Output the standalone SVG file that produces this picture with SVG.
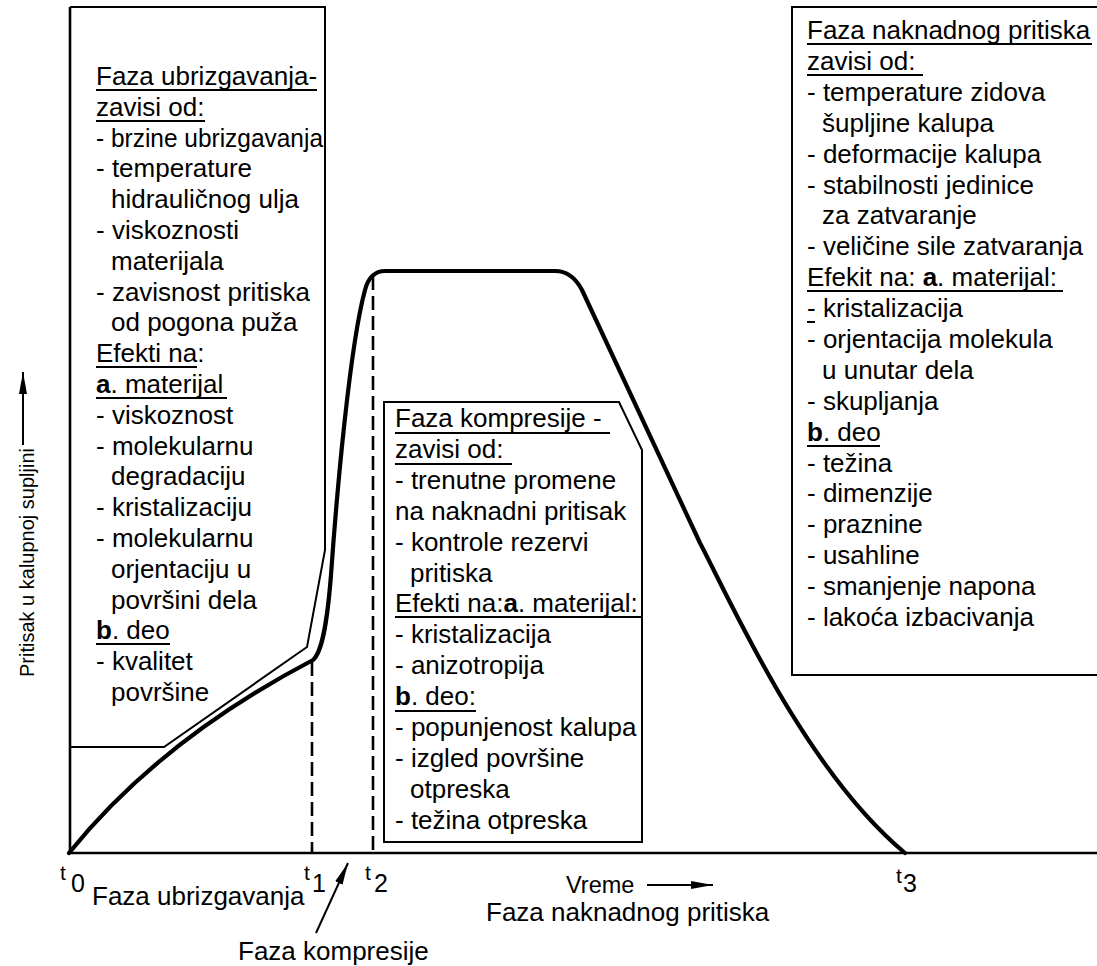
<svg xmlns="http://www.w3.org/2000/svg" width="1097" height="966" viewBox="0 0 1097 966">
<style>
.t{font-family:"Liberation Sans",Arial,sans-serif;font-size:26px;fill:#000}
.lab{font-family:"Liberation Sans",Arial,sans-serif;fill:#000}
.b{font-weight:bold}
.box{fill:none;stroke:#000;stroke-width:2}
.ul{stroke:#000;stroke-width:1.8}
.axis{fill:none;stroke:#000;stroke-width:2.6}
.curve{fill:none;stroke:#000;stroke-width:4.2;stroke-linejoin:round;stroke-linecap:round}
.dash{fill:none;stroke:#000;stroke-width:2.6;stroke-dasharray:14 6}
.arr{fill:none;stroke:#000;stroke-width:2}
</style>
<defs>
<marker id="ah" markerWidth="24" markerHeight="10" refX="22" refY="5" orient="auto" markerUnits="userSpaceOnUse">
<path d="M0,1 L22,5 L0,9 Z" fill="#000"/>
</marker>
</defs>
<rect width="1097" height="966" fill="#fff"/>

<g id="axes">
<path class="axis" d="M70,7 L70,853 L1097,853"/>
</g>

<g id="connectors">
<path class="curve" d="M69,853 Q160,740 313,660 C322,652 327,625 331,575 C337,490 350,345 365,290 Q370,271 385,271 L555,271 Q572,271 582,290 L700,543 C730,600 805,770 905,853"/>
<path class="dash" d="M312,662 L312,853"/>
<path class="dash" d="M373,276 L373,853"/>
<path class="arr" d="M316,933 L348,863" marker-end="url(#ah)"/>
<path class="arr" d="M647,885 L713,885" marker-end="url(#ah)"/>
<path class="arr" d="M23,445 L23,372" marker-end="url(#ah)"/>
</g>

<g id="box-ubrizgavanje">
<path class="box" d="M70,7 L325,7 L325,550 L307,647 L164,747 L70,747"/>
<text class="t">
<tspan x="96" y="85">Faza ubrizgavanja-</tspan>
<tspan x="96" dy="30.8">zavisi od:</tspan>
<tspan x="96" dy="30.8" textLength="227" lengthAdjust="spacingAndGlyphs">- brzine ubrizgavanja</tspan>
<tspan x="96" dy="30.8">- temperature</tspan>
<tspan x="111" dy="30.8">hidrauličnog ulja</tspan>
<tspan x="96" dy="30.8">- viskoznosti</tspan>
<tspan x="111" dy="30.8">materijala</tspan>
<tspan x="96" dy="30.8">- zavisnost pritiska</tspan>
<tspan x="111" dy="30.8">od pogona puža</tspan>
<tspan x="96" dy="30.8">Efekti na:</tspan>
<tspan x="96" dy="30.8"><tspan class="b">a</tspan>. materijal</tspan>
<tspan x="96" dy="30.8">- viskoznost</tspan>
<tspan x="96" dy="30.8">- molekularnu</tspan>
<tspan x="111" dy="30.8">degradaciju</tspan>
<tspan x="96" dy="30.8">- kristalizaciju</tspan>
<tspan x="96" dy="30.8">- molekularnu</tspan>
<tspan x="111" dy="30.8">orjentaciju u</tspan>
<tspan x="111" dy="30.8">površini dela</tspan>
<tspan x="96" dy="30.8"><tspan class="b">b</tspan>. deo</tspan>
<tspan x="96" dy="30.8">- kvalitet</tspan>
<tspan x="111" dy="30.8">površine</tspan>
</text>
<path class="ul" d="M96,90 H317 M96,121 H205 M96,367 H197 M96,398 H227 M96,644 H170"/>
</g>

<g id="box-kompresija">
<path class="box" d="M384,402 L619,402 L642,450 L642,842 L384,842 Z"/>
<text class="t">
<tspan x="395" y="427">Faza kompresije -</tspan>
<tspan x="395" dy="30.9">zavisi od:</tspan>
<tspan x="395" dy="30.9">- trenutne promene</tspan>
<tspan x="395" dy="30.9">na naknadni pritisak</tspan>
<tspan x="395" dy="30.9">- kontrole rezervi</tspan>
<tspan x="410" dy="30.9">pritiska</tspan>
<tspan x="395" dy="30.9">Efekti na:<tspan class="b">a</tspan>. materijal:</tspan>
<tspan x="395" dy="30.9">- kristalizacija</tspan>
<tspan x="395" dy="30.9">- anizotropija</tspan>
<tspan x="395" dy="30.9"><tspan class="b">b</tspan>. deo:</tspan>
<tspan x="395" dy="30.9">- popunjenost kalupa</tspan>
<tspan x="395" dy="30.9">- izgled površine</tspan>
<tspan x="410" dy="30.9">otpreska</tspan>
<tspan x="395" dy="30.9">- težina otpreska</tspan>
</text>
<path class="ul" d="M395,433 H610 M395,464 H512 M395,617 H642 M395,711 H476"/>
</g>

<g id="box-naknadni">
<path class="box" d="M1100,7 L792,7 L792,675 L1100,675"/>
<text class="t">
<tspan x="807" y="39">Faza naknadnog pritiska</tspan>
<tspan x="807" dy="30.9">zavisi od:</tspan>
<tspan x="807" dy="30.9">- temperature zidova</tspan>
<tspan x="822" dy="30.9">šupljine kalupa</tspan>
<tspan x="807" dy="30.9">- deformacije kalupa</tspan>
<tspan x="807" dy="30.9">- stabilnosti jedinice</tspan>
<tspan x="822" dy="30.9">za zatvaranje</tspan>
<tspan x="807" dy="30.9">- veličine sile zatvaranja</tspan>
<tspan x="807" dy="30.9">Efekit na: <tspan class="b">a</tspan>. materijal:</tspan>
<tspan x="807" dy="30.9">- kristalizacija</tspan>
<tspan x="807" dy="30.9">- orjentacija molekula</tspan>
<tspan x="822" dy="30.9">u unutar dela</tspan>
<tspan x="807" dy="30.9">- skupljanja</tspan>
<tspan x="807" dy="30.9"><tspan class="b">b</tspan>. deo</tspan>
<tspan x="807" dy="30.9">- težina</tspan>
<tspan x="807" dy="30.9">- dimenzije</tspan>
<tspan x="807" dy="30.9">- praznine</tspan>
<tspan x="807" dy="30.9">- usahline</tspan>
<tspan x="807" dy="30.9">- smanjenje napona</tspan>
<tspan x="807" dy="30.9">- lakoća izbacivanja</tspan>
</text>
<path class="ul" d="M807,44 H1092 M807,75 H923 M807,291 H1063 M807,322 H815 M807,446 H880"/>
</g>

<g id="labels">
<text class="lab" font-size="21" x="60" y="880">t</text><text class="lab" font-size="25" x="71" y="892">0</text>
<text class="lab" font-size="21" x="304" y="880">t</text><text class="lab" font-size="25" x="312" y="892">1</text>
<text class="lab" font-size="21" x="365" y="880">t</text><text class="lab" font-size="25" x="374" y="892">2</text>
<text class="lab" font-size="21" x="896" y="883">t</text><text class="lab" font-size="25" x="903" y="892">3</text>
<text class="t" x="92" y="905">Faza ubrizgavanja</text>
<text class="t" x="238" y="960">Faza kompresije</text>
<text class="lab" font-size="23.5" x="566" y="893">Vreme</text>
<text class="t" x="486" y="921">Faza naknadnog pritiska</text>
<text class="lab" font-size="20" transform="translate(34,677) rotate(-90)">Pritisak u kalupnoj supljini</text>
</g>
</svg>
